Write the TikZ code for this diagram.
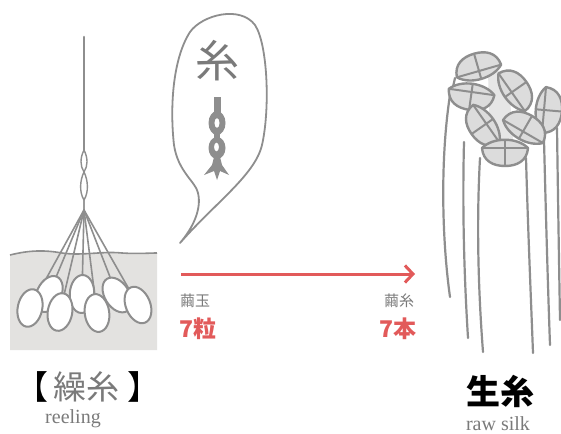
\documentclass[tikz,border=0pt]{standalone}
\usepackage{fontspec}
\setmainfont{Liberation Serif}
\newfontfamily\cjk{Noto Sans CJK JP}
\usetikzlibrary{arrows.meta,shapes.geometric}

\definecolor{fib}{HTML}{8E8E8E}
\definecolor{txtgray}{HTML}{7A7A7A}
\definecolor{water}{HTML}{E3E2E0}
\definecolor{secfill}{HTML}{DCDCDC}
\definecolor{patch}{HTML}{E6E6E6}
\definecolor{accent}{HTML}{E25A5A}

\pgfdeclarelayer{pool}
\pgfdeclarelayer{threads}
\pgfsetlayers{pool,threads,main}

% outline of one filament cross-section: a lens split by its chord
\newcommand\secoutline{(-23,0) .. controls (-12,-11) and (12,-11) .. (23,0)
  .. controls (22,13) and (12,18) .. (0,18)
  .. controls (-12,18) and (-22,13) .. (-23,0) -- cycle}

\tikzset{
  strand/.style={draw=fib, line width=1.6pt, line cap=round},
  cocoon/.style={ellipse, draw=fib, fill=white, line width=2pt,
    minimum width=24.5pt, minimum height=38pt, inner sep=0pt},
  tube/.style={draw=fib, line width=2.2pt, line cap=round},
  lbl/.style={inner sep=0pt, outer sep=0pt},
  capjp/.style={lbl, font=\cjk\fontsize{33}{33}\selectfont},
  xsec/.pic={
    \fill[secfill] \secoutline;
    \begin{scope}
      \clip \secoutline;
      \draw[fib, line width=2pt] (0,-12) -- (0,22) (-26,0) -- (26,0);
    \end{scope}
    \draw[fib, line width=2.4pt, line join=round] \secoutline;
  }
}

\begin{document}
\begin{tikzpicture}[x=1pt,y=-1pt]
\useasboundingbox (0,0) rectangle (561,433);

% ---------- reeling basin ----------
\begin{pgfonlayer}{pool}
  \fill[white] (0,0) rectangle (561,433);
  \fill[water] (10,255) .. controls (30,250) and (45,250) .. (62,253)
    .. controls (82,256) and (102,251) .. (122,253)
    .. controls (137,254) and (150,253) .. (157,253) -- (157,350) -- (10,350) -- cycle;
  \draw[fib, line width=1.6pt] (10,255) .. controls (30,250) and (45,250) .. (62,253)
    .. controls (82,256) and (102,251) .. (122,253)
    .. controls (137,254) and (150,253) .. (157,253);
\end{pgfonlayer}

% cocoons, back row first
\node[cocoon, rotate=-25] (c2) at (49,294) {};
\node[cocoon, rotate=-3]  (c4) at (82,294) {};
\node[cocoon, rotate=32]  (c6) at (117,295) {};
\node[cocoon, rotate=-12] (c1) at (30,308) {};
\node[cocoon, rotate=-10] (c3) at (60,312) {};
\node[cocoon, rotate=8]   (c5) at (97,313) {};
\node[cocoon, rotate=22]  (c7) at (138,305) {};

% twisted thread and its fan of filaments
\coordinate (top) at (84,37);
\coordinate (twist) at (84,150);
\coordinate (apex) at (84,210);
\draw[fib, line width=2.6pt, line cap=round] (top) -- (twist);
\draw[fib, line width=1.4pt] (twist) .. controls (80,158) and (80,166) .. (84,172)
  .. controls (80,180) and (79,192) .. (84,200) -- (apex);
\draw[fib, line width=1.4pt] (twist) .. controls (88,158) and (88,166) .. (84,172)
  .. controls (88,180) and (89,192) .. (84,200) -- (apex);
\begin{pgfonlayer}{threads}
  \foreach \c in {c1,c2,c3,c4,c5,c6,c7}
    \draw[strand] (apex) -- (\c);
\end{pgfonlayer}

% ---------- speech bubble ----------
\draw[fib, line width=1.8pt, line join=round] (180,243)
  .. controls (192,229) and (202,210) .. (198,193)
  .. controls (196,182) and (178,172) .. (174,145)
  .. controls (170,110) and (172,60) .. (190,32)
  .. controls (202,15) and (240,5) .. (255,25)
  .. controls (268,45) and (270,110) .. (262,145)
  .. controls (255,175) and (215,203) .. cycle;
\node[lbl, text=txtgray, font=\cjk\fontsize{44}{44}\selectfont] (glyph) at (217,61) {糸};

% twisted pair icon
\fill[fib] (213.5,97) rectangle (220.5,114);
\fill[fib, even odd rule] (217,123) ellipse [x radius=8.5pt, y radius=12pt]
  (217,123) ellipse [x radius=2.6pt, y radius=5pt];
\fill[fib] (214,132) rectangle (220,139);
\fill[fib, even odd rule] (217,148) ellipse [x radius=8.5pt, y radius=11pt]
  (216.5,147) ellipse [x radius=2.5pt, y radius=4.5pt];
\fill[fib] (214,157) -- (220,157) -- (222,165) -- (229,175) -- (220,171)
  -- (217,180) -- (214,171) -- (204,175) -- (212,165) -- cycle;

% ---------- arrow and counts ----------
\coordinate (arrS) at (181,274);
\coordinate (arrE) at (415,274);
\draw[accent, line width=3pt, -{Straight Barb[length=8pt, width=17pt]}] (arrS) -- (arrE);

\node[lbl, anchor=west, text=txtgray, font=\cjk\fontsize{15}{15}\selectfont] (cocw) at (180,301) {繭玉};
\node[lbl, anchor=west, text=accent, font=\cjk\bfseries\fontsize{23}{23}\selectfont] (cocn) at (179,329) {7粒};
\node[lbl, anchor=east, text=txtgray, font=\cjk\fontsize{15}{15}\selectfont] (filw) at (414,301) {繭糸};
\node[lbl, anchor=east, text=accent, font=\cjk\bfseries\fontsize{23}{23}\selectfont] (filn) at (416,329) {7本};

% ---------- raw silk bundle ----------
\fill[patch] (488,72) -- (508,70) -- (513,140) -- (490,142) -- cycle;
\draw[tube] (455,78) -- (451,96);
\draw[tube] (450,95) .. controls (440,160) and (442,240) .. (450,297);
\draw[tube] (464,142) .. controls (462,220) and (465,290) .. (468,338);
\draw[tube] (480,158) .. controls (476,230) and (479,300) .. (483,352);
\draw[tube] (526,158) .. controls (528,230) and (531,300) .. (533,353);
\draw[tube] (544,140) .. controls (546,220) and (548,290) .. (550,345);
\draw[tube] (557,128) .. controls (558,200) and (559,260) .. (560,320);

\pic (sa) [rotate=196] at (479,71) {xsec};
\pic (sc) [rotate=125] at (511.7,92.3) {xsec};
\pic (sd) [rotate=85]  at (544,110) {xsec};
\pic (sb) [rotate=-8]  at (471.6,92) {xsec};
\pic (se) [rotate=-55] at (486.3,123.7) {xsec};
\pic (sf) [rotate=150] at (523,131.5) {xsec};
\pic (sg) [rotate=0]   at (505,148) {xsec};

% ---------- captions ----------
\node[capjp, text=txtgray] (reelcap) at (86,387) {繰糸};
\node[capjp, anchor=east, xshift=-5pt] (lbrack) at (reelcap.west) {【};
\node[capjp, anchor=west, xshift=8pt] (rbrack) at (reelcap.east) {】};
\node[lbl, anchor=base, text=txtgray, font=\fontsize{20}{20}\selectfont] (reelen) at (73,423) {reeling};
\node[lbl, font=\cjk\bfseries\fontsize{34}{34}\selectfont] (rawcap) at (500,391) {生糸};
\node[lbl, anchor=base, text=txtgray, font=\fontsize{20}{20}\selectfont] (rawen) at (498,430) {raw silk};
\end{tikzpicture}
\end{document}
